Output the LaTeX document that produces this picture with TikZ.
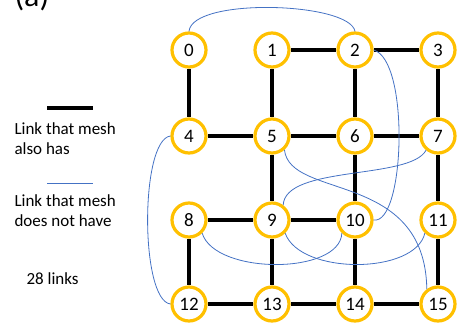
\documentclass[tikz,border=0pt]{standalone}
\usepackage{fontspec}
\setmainfont{Carlito}
\usepackage{tikz}
\usetikzlibrary{calc,positioning}

\definecolor{meshyellow}{HTML}{FFC000}
\definecolor{linkblue}{HTML}{4472C4}

\begin{document}
\begin{tikzpicture}[x=1pt, y=-1pt,
    router/.style={circle, draw=meshyellow, fill=white, line width=3.2pt, minimum size=34pt, inner sep=0pt, font=\fontsize{19}{19}\selectfont},
    meshlink/.style={draw=black, line width=3.2pt},
    extralink/.style={draw=linkblue, line width=0.8pt},
    legend/.style={align=left, anchor=base west, font=\fontsize{17}{20}\selectfont}]
   \useasboundingbox (0,0) rectangle (458,330);
   \node[anchor=base west, font=\fontsize{32}{32}\selectfont] (tag) at (11,6) {(a)};

   % routers
   \node[router] (n0) at (189,50) {0};
   \node[router] (n1) at (272,50) {1};
   \node[router] (n2) at (355,50) {2};
   \node[router] (n3) at (438,50) {3};
   \node[router] (n4) at (189,136) {4};
   \node[router] (n5) at (272,136) {5};
   \node[router] (n6) at (355,136) {6};
   \node[router] (n7) at (438,136) {7};
   \node[router] (n8) at (189,220) {8};
   \node[router] (n9) at (272,220) {9};
   \node[router] (n10) at (355,220) {10};
   \node[router] (n11) at (438,220) {11};
   \node[router] (n12) at (189,304) {12};
   \node[router] (n13) at (272,304) {13};
   \node[router] (n14) at (355,304) {14};
   \node[router] (n15) at (438,304) {15};

  \path[meshlink]
    (n0) edge (n4)
    (n1) edge (n2)
         edge (n5)
    (n2) edge (n3)
         edge (n6)
    (n3) edge (n7)
    (n4) edge (n5)
    (n5) edge (n6)
         edge (n9)
    (n6) edge (n7)
         edge (n10)
    (n7) edge (n11)
    (n8) edge (n9)
         edge (n12)
    (n9) edge (n10)
         edge (n13)
    (n10) edge (n14)
    (n11) edge (n15)
    (n12) edge (n13)
    (n13) edge (n14)
    (n14) edge (n15);

  % links the mesh does not have
  \draw[extralink] (n0.north) .. controls (192,-3) and (350,2) .. (n2.north);
  \draw[extralink] (n2.east) .. controls (410,60) and (405,225) .. (n10.east);
  \draw[extralink] (n4.west) .. controls (140,140) and (140,300) .. (n12.west);
  \draw[extralink] (n5.-48) .. controls (290,200) and (425,170) .. (n15.127);
  \draw[extralink] (n7.-130) .. controls (410,180) and (285,165) .. (n9.53);
  \draw[extralink] (n8.-45) .. controls (215,275) and (340,275) .. (n10.-135);
  \draw[extralink] (n9.-45) .. controls (300,275) and (415,275) .. (n11.-135);

  % legend
  \coordinate (k1a) at (47,108);
  \coordinate (k1b) at (93,108);
  \draw[meshlink] (k1a) -- (k1b);
  \node[legend] (txt1) at (11,154) {Link that mesh\\also has};
  \coordinate (k2a) at (47,183);
  \coordinate (k2b) at (93,183);
  \draw[extralink] (k2a) -- (k2b);
  \node[legend] (txt2) at (11,226) {Link that mesh\\does not have};
  \node[legend] (count) at (23,284) {28 links};
\end{tikzpicture}
\end{document}
